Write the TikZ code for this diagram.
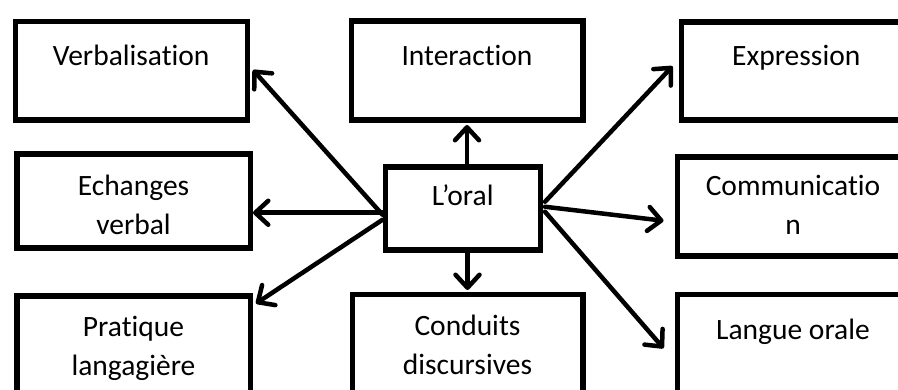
\documentclass[tikz,border=0pt]{standalone}
\usepackage{fontspec}
\setmainfont{Carlito}[Ligatures={NoCommon,NoContextual}]
\usetikzlibrary{arrows.meta,calc}
\begin{document}
\begin{tikzpicture}[x=1pt,y=-1pt,
  box/.style={draw, line width=5.5pt, inner sep=0pt, anchor=north west, align=flush center,
    font=\fontsize{29.5}{39}\selectfont},
  arr/.style={line width=4.5pt, line cap=round, -{Straight Barb[length=13pt,width=24pt,round]}}]
\useasboundingbox (0,0) rectangle (898,390);
\clip (0,0) rectangle (898,390);
\fill[white] (0,0) rectangle (898,390);
% boxes
\node[box, text width=232pt, text height=44pt, text depth=54.5pt] (verb) at (12.5,19) {Verbalisation};
\node[box, text width=231.5pt, text height=44.5pt, text depth=54.5pt] (inter) at (348.5,18.5) {Interaction};
\node[box, text width=230pt, text height=43.5pt, text depth=54.5pt] (expr) at (678.5,19.5) {Expression};
\node[box, text width=233.5pt, text height=41.5pt, text depth=52.5pt] (ech) at (14,151.5) {Echanges\\verbal};
\node[box, text width=155pt, text height=38.5pt, text depth=44.5pt] (oral) at (382.5,164.5) {L’oral};
\node[box, text width=231.5pt, text height=38.5pt, text depth=60.5pt] (comm) at (674.5,154.5) {Communicatio\\n};
\node[box, text width=233.5pt, text height=40.5pt, text depth=89pt] (prat) at (14,293.5) {Pratique\\langagière};
\node[box, text width=230.5pt, text height=41pt, text depth=90pt] (cond) at (349.5,292) {Conduits\\discursives};
\node[box, text width=231.5pt, text height=45pt, text depth=86pt] (lang) at (674.5,292) {Langue orale};
% connector end points
\coordinate (sv) at ($(oral.west)+(0,6)$);
\coordinate (se) at ($(oral.west)+(0,4)$);
\coordinate (sp) at ($(oral.west)+(0,11)$);
\coordinate (tv) at ($(verb.east)+(3,-1)$);
\coordinate (tp) at ($(prat.north east)+(3,10)$);
\coordinate (ti) at ($(inter.south)+(0,2)$);
\coordinate (tc) at ($(cond.north)+(0,-2)$);
\coordinate (sx) at ($(oral.east)+(2,-7)$);
\coordinate (sc) at ($(oral.east)+(2,-2)$);
\coordinate (sl) at ($(oral.east)+(2,3)$);
\coordinate (tx) at ($(expr.west)+(-6,-5)$);
\coordinate (tm) at ($(comm.west)+(-11,14)$);
\coordinate (tl) at ($(lang.west)+(-11,-12)$);
% connectors
\draw[arr] (sv) -- (tv);
\draw[arr] (se) -- (se -| ech.east);
\draw[arr] (sp) -- (tp);
\draw[arr] (inter.south |- oral.north) -- (ti);
\draw[arr] (cond.north |- oral.south) -- (tc);
\draw[arr] (sx) -- (tx);
\draw[arr] (sc) -- (tm);
\draw[arr] (sl) -- (tl);
\end{tikzpicture}
\end{document}
